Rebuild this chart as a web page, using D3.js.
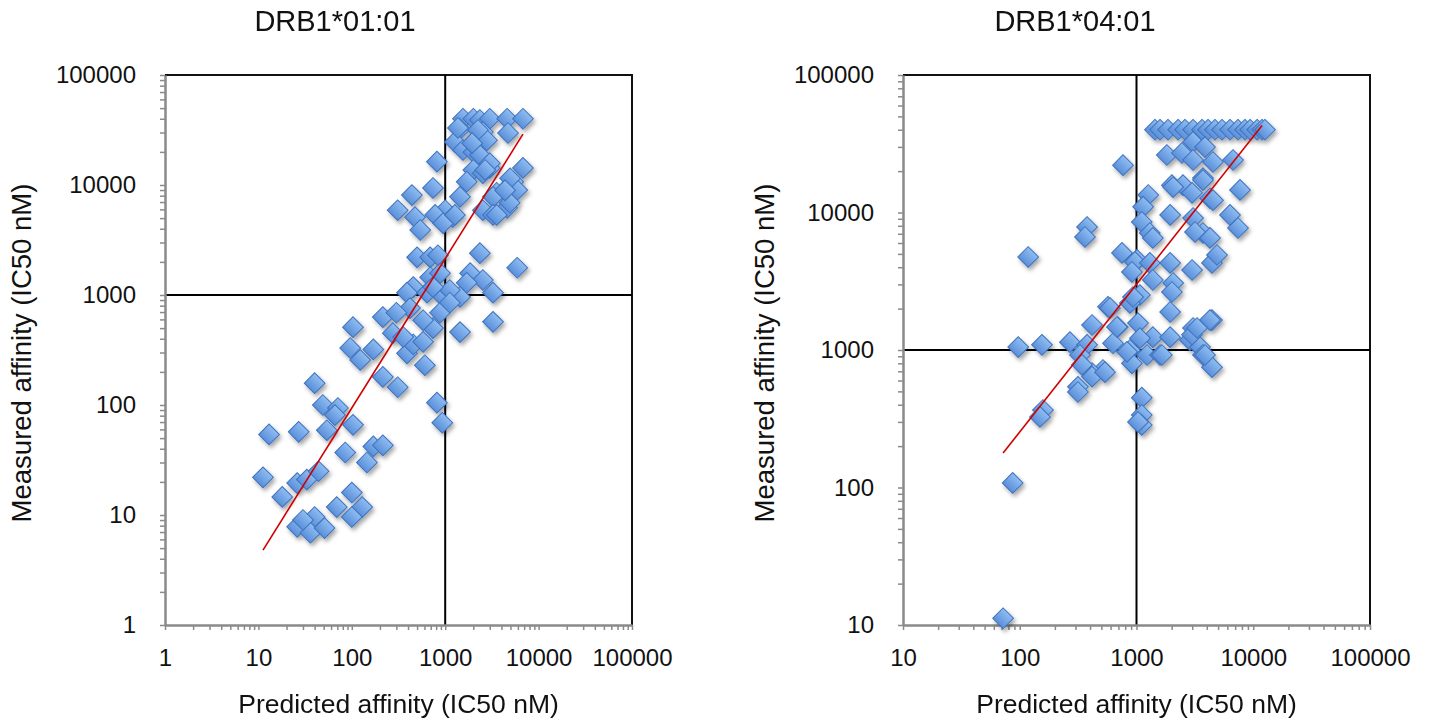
<!DOCTYPE html>
<html><head><meta charset="utf-8">
<script src="https://cdn.jsdelivr.net/npm/d3@7"></script>
<style>
body{margin:0;background:#fff}
text{font-family:"Liberation Sans",Arial,sans-serif;fill:#111}
</style>
</head><body>
<svg id="c" width="1429" height="719"></svg>
<script>
// ---------- data ----------
const titles = ["DRB1*01:01", "DRB1*04:01"];
const xTitle = "Predicted affinity (IC50 nM)";
const yTitle = "Measured affinity (IC50 nM)";
const ticksA = [1, 10, 100, 1000, 10000, 100000];
const ticksB = [10, 100, 1000, 10000, 100000];
const refValue = 1000;

// DRB1*01:01 : predicted (x) and measured (y) IC50
const predA = [1550,2000,2350,3000,4600,6800,1440,2530,4700,1270,1850,2800,1550,2000,2350,815,6800,2000,3000,2530,
  1700,5350,4600,5900,3560,740,440,1440,3250,310,475,1000,780,1200,2530,3250,4600,4900,540,950,
  2350,500,690,5900,455,690,880,1850,2530,1700,3250,390,640,950,1440,1120,3250,1440,740,880,
  580,420,215,300,103,96,170,123,390,455,580,275,355,605,215,310,40,815,930,49,
  71,66,54,103,13,27,85,170,215,145,11.2,18,26,33,44,100,69,129,100,40,
  26,36,51,30,2240,3000,2680,4950,4370,1270,3560,1940,1370,835,740,1120];
const measA = [40000,40000,39000,40000,40000,40000,32300,30300,29700,24600,23000,25500,20800,19900,18700,16300,14300,13700,14300,12800,
  10700,10700,9400,9000,8500,9400,8100,7800,7800,5900,5100,5900,5350,5100,5900,5350,6200,6900,3900,4500,
  2400,2200,2200,1770,1180,1450,1580,1580,1370,1290,1050,1050,1050,960,960,1110,570,460,500,690,
  590,760,630,690,510,330,320,257,295,355,375,450,415,230,180,145,158,105,69,100,
  94,81,59,66,54,57,37,42,43,30,22,14.6,19.5,21,25,16,11.8,11.8,9.6,9.6,
  7.8,6.9,7.6,9,31600,15800,13700,11500,8950,5350,5350,24000,33000,2300,1180,850];
const fitPredA = [11.2, 6800];
const fitMeasA = [4.8, 29000];

// DRB1*04:01
const predB = [1440,1590,1860,2270,2600,3050,3640,4100,4700,5400,6320,7400,8500,9400,10800,11900,12600,
  3050,3860,1820,2450,3050,4520,6710,766,2010,2500,3710,2990,4260,7700,1260,1140,1940,3050,6320,7400,
  1110,1300,3710,4260,377,362,2060,4520,3710,3170,1380,751,118,1010,970,1300,1940,2990,4430,4890,
  914,1380,2060,2010,1940,1070,879,570,933,593,416,693,1030,1380,1940,3050,4430,2870,3500,3710,
  4430,269,377,629,879,1230,1590,914,516,416,315,97,155,328,341,416,537,315,158,149,
  87,72,1110,1110,1110,1030,829,680,1070,1650,2990,3860,4260,3300];
const measB = [40000,40000,40000,40000,40000,40000,40000,40000,40000,40000,40000,40000,40000,40000,40000,40000,40000,
  32600,29900,26200,27100,24100,23300,24100,22100,15800,15800,17800,13900,12700,14600,13400,11000,9600,9120,9600,7710,
  8530,7100,7100,6530,7850,6640,15300,12300,17200,7220,6530,5080,4750,4520,4370,4300,4300,3820,4300,4910,
  3690,3230,3070,2640,1890,2510,2200,2060,2430,2020,1520,1470,1570,1240,1240,1445,1650,1180,1050,920,
  750,1140,1090,1120,1000,920,920,800,715,680,540,1050,1090,920,780,640,690,495,366,326,
  108,11.2,450,337,285,300,970,1470,1220,920,1290,920,1650,1445];
const fitPredB = [72, 11900];
const fitMeasB = [178, 43000];

// ---------- drawing ----------
const svg = d3.select("#c");
const defs = svg.append("defs");
const grad = defs.append("linearGradient").attr("id","dg").attr("x1","0").attr("y1","0").attr("x2","0").attr("y2","1");
grad.append("stop").attr("offset","0%").attr("stop-color","#8fbdf2");
grad.append("stop").attr("offset","100%").attr("stop-color","#5a8fd9");
const flt = defs.append("filter").attr("id","sh").attr("x","-50%").attr("y","-50%").attr("width","200%").attr("height","200%");
flt.append("feDropShadow").attr("dx",2).attr("dy",3).attr("stdDeviation",2).attr("flood-color","#000").attr("flood-opacity",0.35);

function minorTicks(lo, hi){
  const t=[];
  for(let d=lo; d<hi; d*=10){ for(let k=1;k<10;k++) t.push(k*d); }
  t.push(hi);
  return t;
}

function panel(cfg){
  const {x0,x1,y0,y1,xDom,yDom,xTicks,yTicks,px,py,fx,fy,title,titleX,yTitleX} = cfg;
  const x = d3.scaleLog().domain(xDom).range([x0,x1]);
  const y = d3.scaleLog().domain(yDom).range([y1,y0]);
  const g = svg.append("g");

  g.append("path").attr("d",`M${x0},${y0}H${x1}V${y1}`).attr("fill","none").attr("stroke","#111").attr("stroke-width",2);

  g.append("line").attr("x1",x(refValue)).attr("x2",x(refValue)).attr("y1",y0).attr("y2",y1)
    .attr("stroke","#000").attr("stroke-width",2);
  g.append("line").attr("x1",x0).attr("x2",x1).attr("y1",y(refValue)).attr("y2",y(refValue))
    .attr("stroke","#000").attr("stroke-width",2);

  const ya = g.append("g").attr("transform",`translate(${x0},0)`)
    .call(d3.axisLeft(y).tickValues(minorTicks(yDom[0],yDom[1])).tickSize(5).tickSizeOuter(0).tickPadding(24)
      .tickFormat(v => yTicks.includes(v) ? String(v) : ""));
  const xa = g.append("g").attr("transform",`translate(0,${y1})`)
    .call(d3.axisBottom(x).tickValues(minorTicks(xDom[0],xDom[1])).tickSize(5).tickSizeOuter(0).tickPadding(19)
      .tickFormat(v => xTicks.includes(v) ? String(v) : ""));
  [ya,xa].forEach(a=>{
    a.select(".domain").attr("stroke","#8a8a8a").attr("stroke-width",2.5);
    a.selectAll(".tick line").attr("stroke","#8a8a8a").attr("stroke-width",1.5);
    a.selectAll("text").style("font-size","24px").attr("fill","#111");
  });

  const pts = px.map((v,i)=>[v,py[i]]);
  g.append("g").attr("filter","url(#sh)").selectAll("path").data(pts).join("path")
    .attr("d", d3.symbol(d3.symbolSquare, 215)())
    .attr("transform", d=>`translate(${x(d[0])},${y(d[1])}) rotate(45)`)
    .attr("fill","url(#dg)").attr("stroke","#3f72bd").attr("stroke-width",1);

  g.append("line").attr("x1",x(fx[0])).attr("y1",y(fy[0])).attr("x2",x(fx[1])).attr("y2",y(fy[1]))
    .attr("stroke","#d00000").attr("stroke-width",1.6);

  svg.append("text").attr("x",titleX).attr("y",31).attr("text-anchor","middle").style("font-size","29px").text(title);
  svg.append("text").attr("x",(x0+x1)/2).attr("y",713).attr("text-anchor","middle").style("font-size","26.5px").text(xTitle);
  svg.append("text").attr("transform",`translate(${yTitleX},${(y0+y1)/2+3}) rotate(-90)`).attr("text-anchor","middle")
    .style("font-size","27.5px").text(yTitle);
}

panel({x0:165,x1:632,y0:75,y1:625,xDom:[1,100000],yDom:[1,100000],xTicks:ticksA,yTicks:ticksA,
  px:predA,py:measA,fx:fitPredA,fy:fitMeasA,title:titles[0],titleX:335,yTitleX:31});
panel({x0:903,x1:1370,y0:75,y1:625,xDom:[10,100000],yDom:[10,100000],xTicks:ticksB,yTicks:ticksB,
  px:predB,py:measB,fx:fitPredB,fy:fitMeasB,title:titles[1],titleX:1075,yTitleX:774});
</script>
</body></html>
